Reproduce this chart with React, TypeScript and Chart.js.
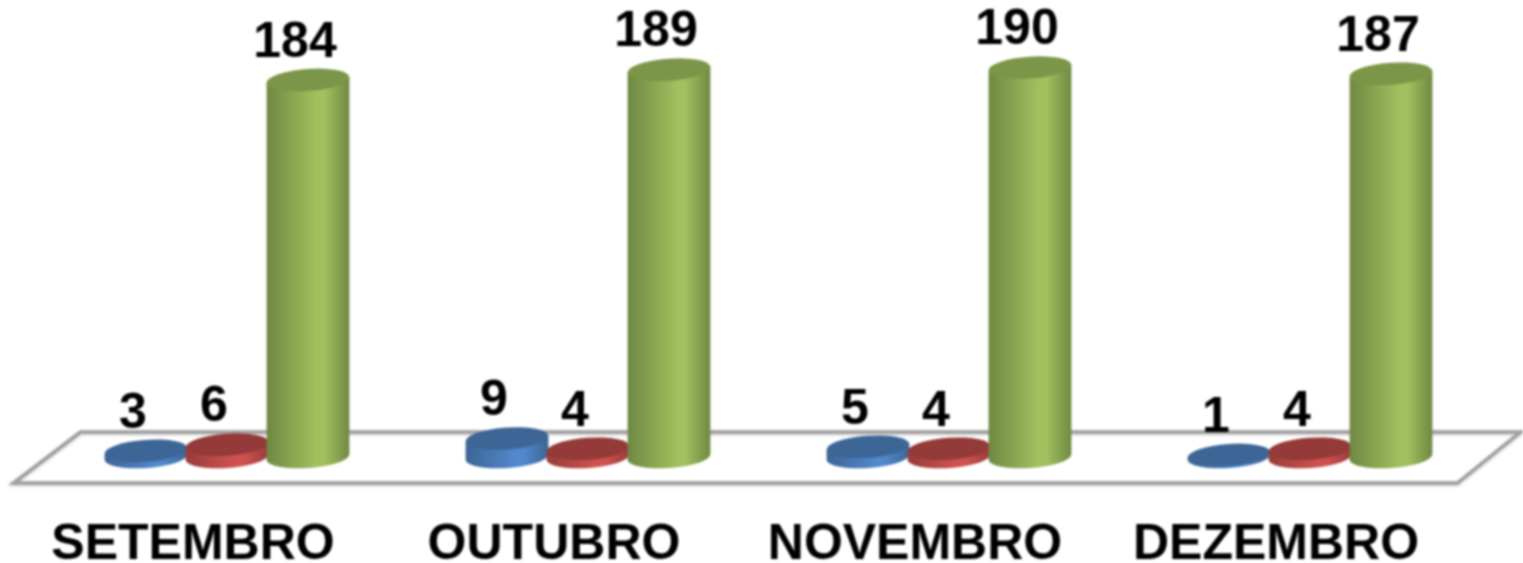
import React, { useEffect, useRef } from "react";
import { Chart, registerables } from "chart.js";

Chart.register(...registerables);

const categories = ["SETEMBRO", "OUTUBRO", "NOVEMBRO", "DEZEMBRO"];
const blueValues = [3, 9, 5, 1];
const redValues = [6, 4, 4, 4];
const greenValues = [184, 189, 190, 187];

const palette = [
  { bar: "#4f81bd", edge: "#3c6494", mid: "#5288cc", top: "#3d6696" },
  { bar: "#c0504d", edge: "#963c3a", mid: "#d0524f", top: "#943a38" },
  { bar: "#9bbb59", edge: "#6f8842", mid: "#a1c05e", top: "#7b9648" },
];

const FONT = '"Liberation Sans", Arial, sans-serif';
const TILT = (-4 * Math.PI) / 180;
const RY = 11;

function drawCylinder(ctx: CanvasRenderingContext2D, el: any, c: (typeof palette)[number]) {
  const rx = el.width / 2 + 1;
  const cx = el.x;
  const topY = el.y;
  const baseY = el.base;
  const dx = rx * Math.cos(TILT);
  const grad = ctx.createLinearGradient(cx - rx, 0, cx + rx, 0);
  grad.addColorStop(0, c.edge);
  grad.addColorStop(0.6, c.mid);
  grad.addColorStop(0.7, c.mid);
  grad.addColorStop(1, c.edge);
  ctx.beginPath();
  ctx.ellipse(cx, baseY, rx, RY, TILT, 0, Math.PI, false);
  ctx.lineTo(cx - dx, topY - rx * Math.sin(TILT));
  ctx.lineTo(cx + dx, topY + rx * Math.sin(TILT));
  ctx.closePath();
  ctx.fillStyle = grad;
  ctx.fill();
  ctx.beginPath();
  ctx.ellipse(cx, topY, rx, RY, TILT, 0, Math.PI * 2);
  ctx.fillStyle = c.top;
  ctx.fill();
}

const cylinderPlugin = {
  id: "cylinders",
  beforeDatasetsDraw(chart: any) {
    const { ctx, scales, chartArea } = chart;
    const y0 = scales.y.getPixelForValue(0);
    const back = y0 - 25;
    const front = y0 + 26;
    const left = chartArea.left;
    const right = chartArea.right;
    ctx.save();
    ctx.beginPath();
    ctx.moveTo(left + 34, back);
    ctx.lineTo(right + 30, back);
    ctx.lineTo(right - 33, front);
    ctx.lineTo(left - 33, front);
    ctx.closePath();
    ctx.fillStyle = "#ffffff";
    ctx.fill();
    ctx.shadowColor = "rgba(0,0,0,0.25)";
    ctx.shadowBlur = 3;
    ctx.shadowOffsetY = 1;
    ctx.strokeStyle = "#a0a0a0";
    ctx.lineWidth = 3.5;
    ctx.lineJoin = "miter";
    ctx.stroke();
    ctx.restore();
  },
  beforeDatasetDraw() {
    return false;
  },
  afterDatasetsDraw(chart: any) {
    const { ctx } = chart;
    ctx.save();
    chart.data.datasets.forEach((ds: any, i: number) => {
      chart.getDatasetMeta(i).data.forEach((el: any) => drawCylinder(ctx, el, palette[i]));
    });
    ctx.fillStyle = "#000000";
    ctx.font = `bold 50px ${FONT}`;
    ctx.textAlign = "center";
    ctx.textBaseline = "middle";
    chart.data.datasets.forEach((ds: any, i: number) => {
      chart.getDatasetMeta(i).data.forEach((el: any, j: number) => {
        ctx.fillText(String(ds.data[j]), el.x - 13, el.y - 37);
      });
    });
    ctx.restore();
  },
};

export default function App() {
  const ref = useRef<HTMLCanvasElement>(null);
  useEffect(() => {
    const chart = new Chart(ref.current!, {
      type: "bar",
      data: {
        labels: categories,
        datasets: [
          { label: "A", data: blueValues, backgroundColor: palette[0].bar },
          { label: "B", data: redValues, backgroundColor: palette[1].bar },
          { label: "C", data: greenValues, backgroundColor: palette[2].bar },
        ],
      },
      options: {
        responsive: false,
        animation: false,
        layout: { padding: { left: 46.5, right: 32.5, top: 0, bottom: 0 } },
        plugins: { legend: { display: false }, tooltip: { enabled: false }, title: { display: false } },
        datasets: { bar: { categoryPercentage: 0.673, barPercentage: 1 } },
        scales: {
          x: {
            grid: { display: false, drawTicks: false },
            border: { display: false },
            afterFit: (s: any) => {
              s.height = 106;
            },
            ticks: {
              autoSkip: false,
              maxRotation: 0,
              padding: 58,
              labelOffset: -34,
              color: "#000000",
              font: { family: FONT, size: 50, weight: "bold" },
            },
          },
          y: { display: false, min: 0, max: 223 },
        },
      } as any,
      plugins: [cylinderPlugin as any],
    });
    return () => chart.destroy();
  }, []);
  return (
    <div style={{ position: "fixed", left: 0, top: 0, width: 1523, height: 563, background: "#fff", overflow: "hidden" }}>
      <canvas ref={ref} width={1523} height={563} style={{ display: "block", filter: "blur(1px)" }} />
    </div>
  );
}
